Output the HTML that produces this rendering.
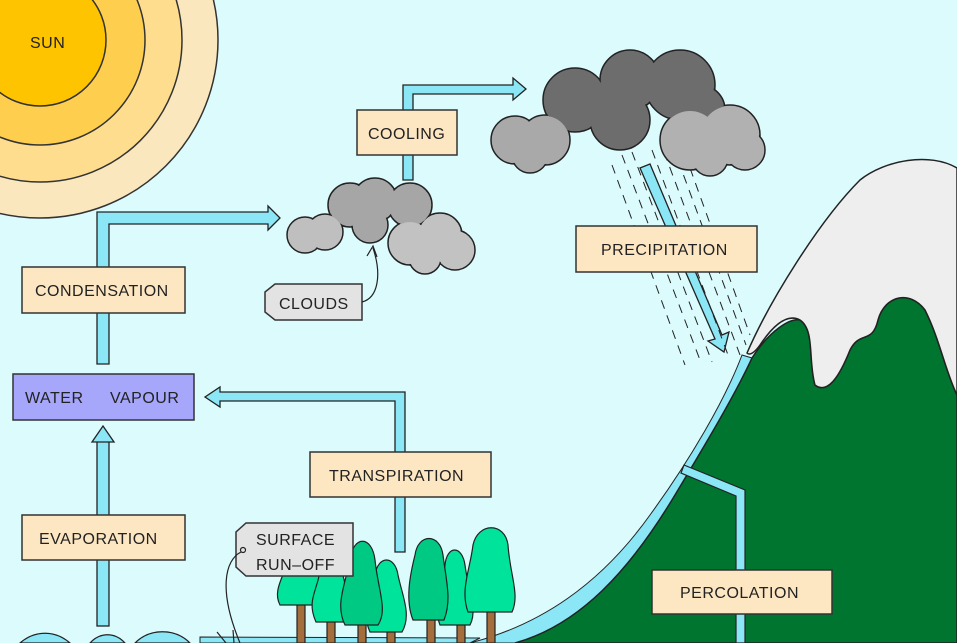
<!DOCTYPE html>
<html><head><meta charset="utf-8"><style>
html,body{margin:0;padding:0;background:#dcfbfd;}
svg{display:block}
text{font-family:"Liberation Sans",sans-serif;font-size:16px;fill:#222;letter-spacing:0.5px}
</style></head><body>
<svg width="957" height="643" viewBox="0 0 957 643" xmlns="http://www.w3.org/2000/svg">
<rect width="957" height="643" fill="#dcfbfd"/>
<!-- sun -->
<g stroke="#333" stroke-width="1.5">
<circle cx="40" cy="40" r="178" fill="#fbe7bd"/>
<circle cx="40" cy="40" r="142" fill="#fedd8e"/>
<circle cx="40" cy="40" r="105" fill="#fecf4f"/>
<circle cx="40" cy="40" r="66" fill="#fec400"/>
</g>
<text x="30" y="48">SUN</text>

<!-- water strip along slope -->
<path d="M470 643 C540 625 600 585 650 515 C690 460 725 400 742 355 L752 358 C738 405 705 465 665 525 C620 590 575 630 530 643 Z" fill="#8be6f6" stroke="#222" stroke-width="1"/>
<path d="M200 637 L480 638 L470 643 L200 643 Z" fill="#8be6f6" stroke="#222" stroke-width="1"/>
<!-- mountain green -->
<path d="M515 643 C580 625 630 570 675 495 C705 445 735 395 752 358 C770 330 790 318 800 320 C815 330 808 360 815 385 C828 395 840 375 850 350 C860 330 872 345 878 320 C885 295 910 290 925 310 C940 340 945 370 957 395 L957 643 Z" fill="#007530" stroke="#222" stroke-width="1.5"/>
<!-- snow -->
<path d="M747 353 C770 300 820 220 860 180 C885 160 930 152 957 168 L957 395 C945 370 940 340 925 310 C910 290 885 295 878 320 C872 345 860 330 850 350 C840 375 828 395 815 385 C808 360 815 330 800 320 C785 312 770 330 760 345 C755 352 750 356 747 353 Z" fill="#eeeeee" stroke="#222" stroke-width="1.5"/>
<!-- percolation pipe -->
<path d="M684 465 L745 490 L745 643 L736 643 L736 496 L681 473 Z" fill="#8be6f6" stroke="#222" stroke-width="1.2"/>
<!-- bottom waves -->
<g fill="#8be6f6" stroke="#222" stroke-width="1.2">
<path d="M20 643 C35 630 55 630 70 643 Z"/>
<path d="M90 643 C100 632 115 632 125 643 Z"/>
<path d="M135 643 C150 628 175 628 190 643 Z"/>
</g>

<!-- arrows -->
<g fill="#8be6f6" stroke="#222" stroke-width="1.3" stroke-linejoin="miter">
<rect x="97" y="440" width="12" height="186"/>
<path d="M92 442 L103 426 L114 442 Z"/>
<path d="M97 364 L97 212 L268 212 L268 206 L280 218 L268 230 L268 224 L109 224 L109 364 Z"/>
<path d="M405 552 L395 552 L395 401 L220 401 L220 407 L205 397 L220 387 L220 392 L405 392 Z"/>
<path d="M403 180 L403 85 L513 85 L513 78 L526 89 L513 100 L513 94 L413 94 L413 180 Z"/>
<path d="M640 168 L650 164 L722 335 L729 332 L724 352 L708 341 L715 339 Z"/>
</g>

<!-- rain dashes -->
<g stroke="#222" stroke-width="1" stroke-dasharray="9 7" fill="none">
<line x1="622" y1="155" x2="700" y2="360"/>
<line x1="632" y1="152" x2="712" y2="362"/>
<line x1="652" y1="150" x2="728" y2="355"/>
<line x1="664" y1="152" x2="740" y2="355"/>
<line x1="678" y1="160" x2="746" y2="345"/>
<line x1="690" y1="168" x2="750" y2="335"/>
<line x1="612" y1="165" x2="685" y2="365"/>
</g>

<!-- small cloud -->
<g stroke="#222" stroke-width="1.5">
<g fill="#a6a6a6"><circle cx="350" cy="205" r="22"/><circle cx="375" cy="200" r="22"/><circle cx="410" cy="205" r="22"/><circle cx="370" cy="225" r="18"/></g>
<g fill="#bfbfbf"><circle cx="305" cy="235" r="18"/><circle cx="325" cy="232" r="18"/></g>
<g fill="#c2c2c2"><circle cx="410" cy="243" r="22"/><circle cx="440" cy="235" r="22"/><circle cx="455" cy="250" r="20"/><circle cx="425" cy="258" r="16"/></g>
</g>
<g stroke="none">
<g fill="#a6a6a6"><circle cx="350" cy="205" r="21"/><circle cx="375" cy="200" r="21"/><circle cx="410" cy="205" r="21"/><circle cx="370" cy="225" r="17"/></g>
<g fill="#bfbfbf"><circle cx="305" cy="235" r="17"/><circle cx="325" cy="232" r="17"/></g>
<g fill="#c2c2c2"><circle cx="410" cy="243" r="21"/><circle cx="440" cy="235" r="21"/><circle cx="455" cy="250" r="19"/><circle cx="425" cy="258" r="15"/></g>
</g>

<!-- big cloud -->
<g stroke="#222" stroke-width="1.5">
<g fill="#6d6d6d"><circle cx="575" cy="100" r="32"/><circle cx="630" cy="80" r="30"/><circle cx="680" cy="85" r="35"/><circle cx="700" cy="110" r="25"/><circle cx="620" cy="120" r="30"/></g>
<g fill="#a9a9a9"><circle cx="515" cy="140" r="24"/><circle cx="545" cy="140" r="25"/><circle cx="530" cy="155" r="18"/></g>
<g fill="#b1b1b1"><circle cx="690" cy="140" r="30"/><circle cx="730" cy="135" r="30"/><circle cx="745" cy="150" r="20"/><circle cx="710" cy="158" r="18"/></g>
</g>
<g stroke="none">
<g fill="#6d6d6d"><circle cx="575" cy="100" r="31"/><circle cx="630" cy="80" r="29"/><circle cx="680" cy="85" r="34"/><circle cx="700" cy="110" r="24"/><circle cx="620" cy="120" r="29"/></g>
<g fill="#a9a9a9"><circle cx="515" cy="140" r="23"/><circle cx="545" cy="140" r="24"/><circle cx="530" cy="155" r="17"/></g>
<g fill="#b1b1b1"><circle cx="690" cy="140" r="29"/><circle cx="730" cy="135" r="29"/><circle cx="745" cy="150" r="19"/><circle cx="710" cy="158" r="17"/></g>
</g>

<!-- trees -->
<g stroke="#222" stroke-width="1.2">
<g fill="#a36d3c">
<rect x="297" y="600" width="8" height="43"/><rect x="327" y="610" width="8" height="33"/><rect x="358" y="615" width="8" height="28"/><rect x="387" y="620" width="8" height="23"/><rect x="427" y="610" width="8" height="33"/><rect x="457" y="615" width="8" height="28"/><rect x="487" y="605" width="8" height="38"/>
</g>
<g fill="#00e39a">
<path d="M280 605 C272 590 285 575 288 560 C292 540 315 540 318 560 C320 575 330 590 320 605 Z"/>
<path d="M316 622 C306 600 318 590 320 570 C322 555 340 555 342 570 C345 590 355 605 345 622 Z"/>
<path d="M370 632 C360 610 372 595 375 575 C378 555 395 555 398 575 C402 595 412 615 402 632 Z"/>
<path d="M440 625 C432 605 442 590 445 565 C447 545 462 545 465 565 C468 590 478 610 470 625 Z"/>
<path d="M468 612 C460 590 470 570 473 545 C478 522 505 522 508 545 C510 575 520 595 512 612 Z"/>
</g>
<g fill="#00c984">
<path d="M345 625 C335 605 345 585 350 560 C353 535 372 535 375 560 C378 590 388 610 378 625 Z"/>
<path d="M413 620 C405 600 410 575 415 555 C418 533 440 533 443 555 C446 580 452 600 444 620 Z"/>
</g>
</g>

<!-- boxes -->
<g stroke="#333" stroke-width="1.5" fill="#fde7c3">
<rect x="357" y="110" width="100" height="45"/>
<rect x="22" y="267" width="163" height="46"/>
<rect x="22" y="515" width="163" height="45"/>
<rect x="310" y="452" width="181" height="45"/>
<rect x="576" y="226" width="181" height="46"/>
<rect x="652" y="570" width="180" height="44"/>
<rect x="13" y="374" width="181" height="46" fill="#a6a6fb"/>
<path d="M275 284 L362 284 L362 320 L275 320 L265 312 L265 292 Z" fill="#e3e3e3"/>
<path d="M246 523 L353 523 L353 576 L246 576 L236 567 L236 532 Z" fill="#e3e3e3"/>
</g>
<g fill="none" stroke="#222" stroke-width="1.2">
<path d="M362 302 C378 298 382 275 373 248"/>
<path d="M367 256 L373 246 L377 257"/>
<circle cx="243" cy="550" r="2.5"/>
<path d="M241 552 C225 560 218 590 240 643"/>
<path d="M217 632 L226 643 M233 630 L234 643"/>
</g>
<text x="368" y="139">COOLING</text>
<text x="35" y="296">CONDENSATION</text>
<text x="25" y="403">WATER</text><text x="110" y="403">VAPOUR</text>
<text x="39" y="544">EVAPORATION</text>
<text x="329" y="481">TRANSPIRATION</text>
<text x="601" y="255">PRECIPITATION</text>
<text x="680" y="598">PERCOLATION</text>
<text x="279" y="309">CLOUDS</text>
<text x="256" y="545">SURFACE</text>
<text x="256" y="570">RUN–OFF</text>
</svg>
</body></html>
